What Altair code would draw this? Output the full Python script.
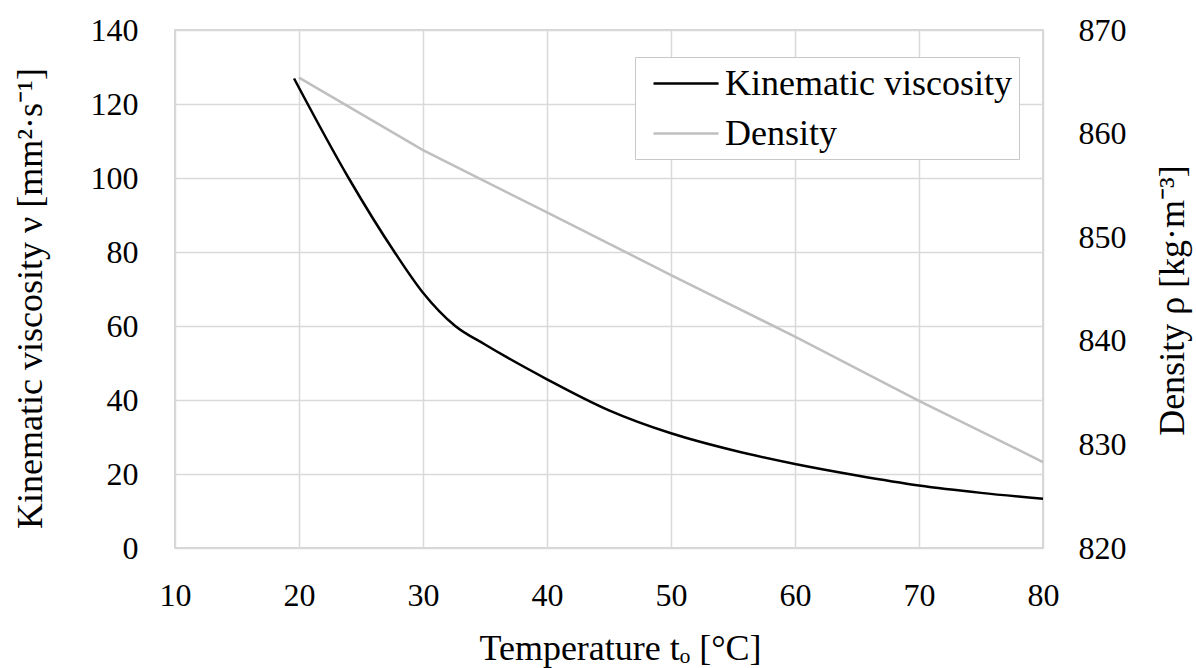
import altair as alt
import pandas as pd

# Kinematic viscosity
visc_t = [19.6, 24.0, 27.7, 30.0, 32.6, 35.0, 40.0, 45.0, 50.0, 55.0, 60.0, 65.0, 70.0, 75.0, 80.0]
visc_v = [126.9, 100.0, 80.0, 69.0, 60.0, 55.0, 45.6, 37.2, 31.0, 26.4, 22.7, 19.6, 16.9, 14.9, 13.3]

# Density
dens_t = [20, 30, 40, 50, 60, 70, 80]
dens_v = [865.4, 858.4, 852.4, 846.35, 840.4, 834.2, 828.3]

x_ticks = [10, 20, 30, 40, 50, 60, 70, 80]
left_ticks = [0, 20, 40, 60, 80, 100, 120, 140]
right_ticks = [820, 830, 840, 850, 860, 870]

series_names = ["Kinematic viscosity", "Density"]
series_colors = ["#000000", "#bfbfbf"]

df_v = pd.DataFrame({"t": visc_t, "value": visc_v, "series": series_names[0]})
df_d = pd.DataFrame({"t": dens_t, "value": dens_v, "series": series_names[1]})

FONT = "Liberation Serif"
FS = 32
TFS = 36

color = alt.Color(
    "series:N",
    scale=alt.Scale(domain=series_names, range=series_colors),
    legend=alt.Legend(
        title=None,
        orient="none",
        legendX=460,
        legendY=27,
        symbolType="M-0.444,0H3.17",
        symbolSize=1296,
        symbolStrokeWidth=2.5,
        labelFont=FONT,
        labelFontSize=36,
        labelColor="#000000",
        labelLimit=0,
        labelOffset=44,
        labelExpr="datum.label + '\u00a0\u00a0'",
        rowPadding=12,
        padding=7,
        strokeColor="#c8c8c8",
        fillColor="#ffffff",
    ),
)

x_enc = alt.X(
    "t:Q",
    scale=alt.Scale(domain=[10, 80], nice=False, zero=False),
    axis=alt.Axis(
        values=x_ticks,
        title="Temperature tₒ [°C]",
        titleX=445,
        titleY=100,
        titleAlign="center",
        titleBaseline="middle",
        labelPadding=32,
        labelFlush=False,
        grid=True,
    ),
)

visc = alt.Chart(df_v).mark_line(interpolate="monotone", strokeWidth=2.5).encode(
    x=x_enc,
    y=alt.Y(
        "value:Q",
        scale=alt.Scale(domain=[0, 140], nice=False),
        axis=alt.Axis(
            values=left_ticks,
            title="Kinematic viscosity ν [mm²·s⁻¹]",
            titleX=-145,
            titleY=268,
            titleAngle=270,
            titleAlign="center",
            titleBaseline="middle",
            labelPadding=37,
            labelFlush=False,
            grid=True,
            orient="left",
        ),
    ),
    color=color,
)

dens = alt.Chart(df_d).mark_line(strokeWidth=2.5).encode(
    x=x_enc,
    y=alt.Y(
        "value:Q",
        scale=alt.Scale(domain=[820, 870], nice=False, zero=False),
        axis=alt.Axis(
            values=right_ticks,
            title="Density ρ [kg·m⁻³]",
            titleX=129,
            titleY=270,
            titleAngle=270,
            titleAlign="center",
            titleBaseline="middle",
            labelPadding=35,
            labelFlush=False,
            grid=False,
            orient="right",
        ),
    ),
    color=color,
)

chart = (
    alt.layer(visc, dens)
    .resolve_scale(y="independent")
    .properties(
        width=868,
        height=518,
        autosize=alt.AutoSizeParams(type="none"),
        padding={"left": 175, "top": 30, "right": 153, "bottom": 120},
        background="#ffffff",
    )
    .configure_view(stroke="#c8c8c8", strokeWidth=1.5)
    .configure_axis(
        domain=False,
        ticks=False,
        labelFont=FONT,
        labelFontSize=FS,
        labelColor="#000000",
        titleFont=FONT,
        titleFontSize=TFS,
        titleFontWeight="normal",
        titleColor="#000000",
        gridColor="#d9d9d9",
        gridWidth=1.5,
    )
)

chart.save("out.html", embed_options={"renderer": "svg", "actions": False})
